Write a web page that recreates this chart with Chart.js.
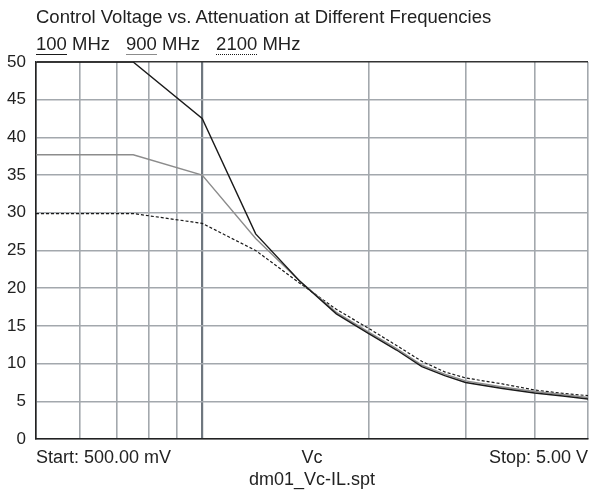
<!DOCTYPE html>
<html>
<head>
<meta charset="utf-8">
<script src="https://cdn.jsdelivr.net/npm/chart.js@4/dist/chart.umd.min.js"></script>
<style>
    body { margin: 0; overflow: hidden; background: #fff; font-family: "Liberation Sans", Arial, sans-serif; }
    #wrap { position: relative; width: 593px; height: 491px; overflow: hidden; }
    #chart { position: absolute; left: 0; top: 0; }
    #title { position: absolute; left: 36px; top: 6px; font-size: 18.5px; color: #222; white-space: nowrap; }
    #legend { position: absolute; left: 36px; top: 33px; font-size: 18.5px; color: #222; white-space: nowrap; }
    #legend span.item { margin-right: 16px; }
</style>
</head>
<body>
<div id="wrap">
    <canvas id="chart" width="596" height="491"></canvas>
    <div id="title">Control Voltage vs. Attenuation at Different Frequencies</div>
    <div id="legend"></div>
</div>
<script>
// control voltage (V)
var vc = [0.5, 0.75, 1.0, 1.25, 1.5, 1.75, 2.0, 2.25, 2.5, 2.75, 3.0, 3.5, 4.0, 4.5, 5.0];
// attenuation (dB)
var att100 = [50, 50, 42.5, 27.2, 21.0, 16.6, 14.0, 11.8, 9.6, 8.4, 7.5, 6.7, 6.1, 5.7, 5.3];
var att900 = [37.7, 37.7, 35.0, 26.6, 21.0, 16.8, 14.2, 12.0, 9.8, 8.6, 7.7, 6.9, 6.3, 5.9, 5.5];
var att2100 = [29.9, 29.9, 28.6, 25.0, 20.7, 17.2, 14.7, 12.4, 10.3, 8.9, 8.1, 7.3, 6.5, 6.05, 5.75];
var seriesNames = ['100 MHz', '900 MHz', '2100 MHz'];
var yTicks = [0, 5, 10, 15, 20, 25, 30, 35, 40, 45, 50];
var xGrid = [0.5, 0.6, 0.7, 0.8, 0.9, 1, 2, 3, 4, 5];
var xMid = Math.sqrt(0.5 * 5); // where "Vc" sits

function pts(ys) {
    return ys.map(function(y, i) { return {x: vc[i], y: y}; });
}

var sets = [
    {label: seriesNames[0], data: pts(att100), borderColor: '#1a1a1a', borderWidth: 1.4, borderDash: []},
    {label: seriesNames[1], data: pts(att900), borderColor: '#8c8c8c', borderWidth: 1.4, borderDash: []},
    {label: seriesNames[2], data: pts(att2100), borderColor: '#1a1a1a', borderWidth: 1.2, borderDash: [3, 2]}
];
sets.forEach(function(s) { s.pointRadius = 0; s.tension = 0; s.fill = false; });

// legend: number underlined with the series line style
var lg = document.getElementById('legend');
sets.forEach(function(s) {
    var parts = s.label.split(' ');
    var style = (s.borderDash.length ? 'dotted' : 'solid');
    lg.insertAdjacentHTML('beforeend',
        '<span class="item"><span style="border-bottom:1.5px ' + style + ' ' + s.borderColor + '">' +
        parts[0] + '</span> ' + parts[1] + '</span>');
});

var gridGray = '#a3a8ad';

new Chart(document.getElementById('chart'), {
    type: 'line',
    data: { datasets: sets },
    options: {
        responsive: false,
        animation: false,
        layout: { padding: { top: 62, left: 0, right: 2, bottom: 0 } },
        plugins: { legend: { display: false }, tooltip: { enabled: false } },
        scales: {
            x: {
                type: 'logarithmic',
                min: 0.5,
                max: 5,
                afterBuildTicks: function(axis) {
                    axis.ticks = xGrid.concat([xMid]).sort(function(a, b) { return a - b; })
                        .map(function(v) { return {value: v}; });
                },
                afterFit: function(axis) { axis.height = 52; },
                ticks: {
                    autoSkip: false,
                    maxRotation: 0,
                    align: 'inner',
                    padding: 8,
                    color: '#222',
                    font: { size: 18, family: 'Liberation Sans' },
                    callback: function(v) {
                        if (v === 0.5) return 'Start: 500.00 mV';
                        if (v === 5) return 'Stop: 5.00 V';
                        if (v === xMid) return 'Vc';
                        return '';
                    }
                },
                grid: {
                    drawTicks: false,
                    color: function(c) {
                        if (!c.tick || c.tick.value === xMid) return 'rgba(0,0,0,0)';
                        if (c.tick.value === 1) return '#6f777f';
                        return gridGray;
                    },
                    lineWidth: function(c) { return c.tick && c.tick.value === 1 ? 2.2 : 1.6; }
                },
                border: { display: true, color: '#222', width: 1.6 },
                title: {
                    display: true,
                    text: 'dm01_Vc-IL.spt',
                    color: '#222',
                    font: { size: 18, family: 'Liberation Sans' },
                    padding: { top: 0, bottom: 0 }
                }
            },
            y: {
                min: 0,
                max: 50,
                afterBuildTicks: function(axis) {
                    axis.ticks = yTicks.map(function(v) { return {value: v}; });
                },
                afterFit: function(axis) { axis.width = 36; },
                ticks: {
                    padding: 10,
                    color: '#222',
                    font: { size: 17, family: 'Liberation Sans' }
                },
                grid: {
                    drawTicks: false,
                    color: function(c) { return c.tick && c.tick.value === 50 ? '#333' : gridGray; },
                    lineWidth: 1.6
                },
                border: { display: true, color: '#222', width: 1.6 }
            }
        }
    }
});
</script>
</body>
</html>
